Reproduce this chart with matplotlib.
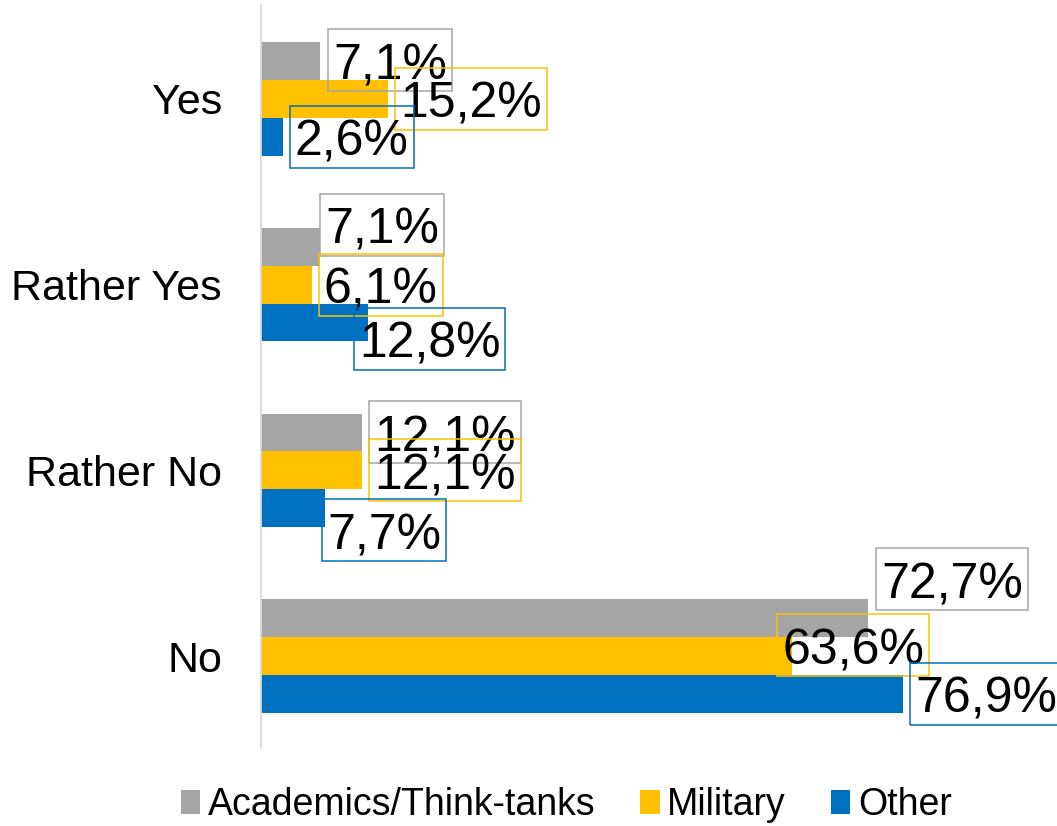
import matplotlib
matplotlib.use("Agg")
import matplotlib.pyplot as plt
from matplotlib.patches import Patch
from matplotlib.path import Path
import numpy as np

plt.rcParams['font.family'] = ['Liberation Sans', 'DejaVu Sans']

categories = ["Yes", "Rather Yes", "Rather No", "No"]
series_names = ["Academics/Think-tanks", "Military", "Other"]
academics = [7.1, 7.1, 12.1, 72.7]
military = [15.2, 6.1, 12.1, 63.6]
other = [2.6, 12.8, 7.7, 76.9]
colors = ["#A5A5A5", "#FFC000", "#0070C0"]

# label box placement (pixels): horizontal gap from bar end, vertical shift (down +)
label_dx = [[8, 0, 7, 8], [7, 7, 7, -15], [7, -14, -3, 7]]
label_dy = [[-1, -22, 0, -39], [0, 0, 0, -11], [0, 16, 22, 0]]

PAD_X, PAD_TOP, PAD_BOTTOM = 5, 14, 2
TEXT_DROP = 6


def label_box(x0, y0, width, height, mutation_size):
    bx0 = x0 - PAD_X
    bx1 = x0 + width + PAD_X
    by0 = y0 - PAD_BOTTOM
    by1 = y0 + height + PAD_TOP
    return Path([(bx0, by0), (bx1, by0), (bx1, by1), (bx0, by1), (bx0, by0)],
                [Path.MOVETO, Path.LINETO, Path.LINETO, Path.LINETO, Path.CLOSEPOLY])


W, H = 1057, 826
fig = plt.figure(figsize=(W / 100, H / 100), dpi=100)
ax = fig.add_axes([261 / W, (H - 748) / H, (W - 261) / W, (748 - 5) / H])

bh = 0.204
y = np.arange(len(categories))
all_series = [academics, military, other]
offsets = [-bh, 0, bh]
for si, (vals, col, off, name) in enumerate(zip(all_series, colors, offsets, series_names)):
    ax.barh(y + off, vals, height=bh, color=col, label=name)
    for ci, (yi, v) in enumerate(zip(y, vals)):
        ax.annotate(f"{v:.1f}%".replace('.', ','), xy=(v, yi + off),
                    xytext=(label_dx[si][ci] + PAD_X, -label_dy[si][ci] - TEXT_DROP),
                    textcoords='offset pixels',
                    ha='left', va='center', fontsize=36, color='black',
                    annotation_clip=False,
                    bbox=dict(boxstyle=label_box, facecolor='none',
                              edgecolor=col, linewidth=1.1))

ax.set_xlim(0, (W - 261) / 8.35)
ax.set_ylim(3.495, -0.506)
ax.set_yticks(y)
ax.set_yticklabels(categories, fontsize=31)
ax.tick_params(axis='y', length=0, pad=28)
ax.set_xticks([])
for s in ['top', 'right', 'bottom']:
    ax.spines[s].set_visible(False)
ax.spines['left'].set_color('#D9D9D9')
ax.spines['left'].set_linewidth(1.3)

handles = [Patch(facecolor=c, edgecolor='none') for c in colors]
fig.legend(handles, series_names, loc='center', bbox_to_anchor=(566 / W, 1 - 805 / H),
           ncol=3, frameon=False, fontsize=27, handlelength=0.52, handleheight=0.6,
           handletextpad=0.2, columnspacing=1.2, borderaxespad=0)

fig.savefig("out.png", dpi=100)
